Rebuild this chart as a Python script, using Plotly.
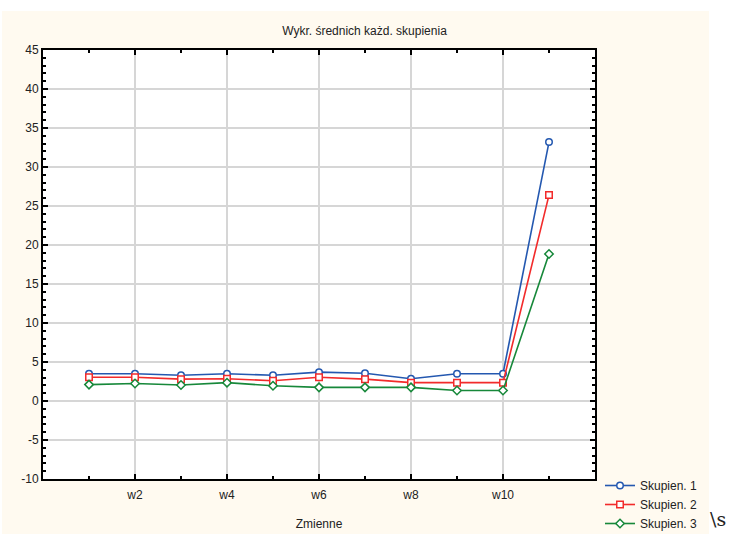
import plotly.graph_objects as go

categories = ["w1", "w2", "w3", "w4", "w5", "w6", "w7", "w8", "w9", "w10", "w11"]
skupien_1 = [3.5, 3.5, 3.3, 3.5, 3.3, 3.7, 3.55, 2.85, 3.5, 3.5, 33.2]
skupien_2 = [3.05, 3.05, 2.8, 2.85, 2.6, 3.05, 2.8, 2.35, 2.35, 2.35, 26.4]
skupien_3 = [2.1, 2.25, 2.05, 2.35, 1.95, 1.75, 1.75, 1.75, 1.35, 1.35, 18.85]
series_names = ["Skupien. 1", "Skupien. 2", "Skupien. 3"]
x_tick_labels = ["w2", "w4", "w6", "w8", "w10"]
y_tick_values = [-10, -5, 0, 5, 10, 15, 20, 25, 30, 35, 40, 45]
y_tick_labels = [str(v) for v in y_tick_values]

x_pos = list(range(1, len(categories) + 1))
tick_pos = [x_pos[categories.index(t)] for t in x_tick_labels]

colors = ["#2458B0", "#F22B2B", "#17883A"]
symbols = ["circle", "square", "diamond"]

fig = go.Figure()
for name, vals, col, sym in zip(series_names, [skupien_1, skupien_2, skupien_3], colors, symbols):
    fig.add_trace(go.Scatter(
        x=x_pos, y=vals, name=name, mode="lines+markers",
        line=dict(color=col, width=1.6),
        marker=dict(symbol=sym, size=6.5, color="white", line=dict(color=col, width=1.5)),
        customdata=categories,
    ))

W, H = 729, 534
L, R, T, B = 43, 595, 50, 479
pw, ph = R - L, B - T

def px(xp):
    return (xp - L) / pw

def py(yp):
    return (B - yp) / ph

font = "Arial, Liberation Sans, sans-serif"
cream = "#FFFAF0"

fig.update_layout(
    width=W, height=H,
    margin=dict(l=L, r=W - R, t=T, b=H - B, pad=0, autoexpand=False),
    paper_bgcolor=cream,
    plot_bgcolor="white",
    font=dict(family=font, size=12, color="#222222"),
    title=dict(text="Wykr. średnich każd. skupienia", x=0.5, xref="container",
               y=1 - 31 / H, yref="container", yanchor="middle", font=dict(size=12, color="#222222")),
    showlegend=True,
    legend=dict(x=600 / W, y=1 - 471 / H, xref="container", yref="container",
                xanchor="left", yanchor="top",
                bgcolor="rgba(0,0,0,0)", font=dict(size=12, color="#222222"),
                tracegroupgap=0),
    xaxis=dict(
        range=[0, 12], tickvals=tick_pos, ticktext=x_tick_labels,
        showgrid=True, gridcolor="#D6D6D6", gridwidth=1.5,
        zeroline=False, showline=True, linecolor="black", linewidth=2,
        mirror="ticks", ticks="inside", ticklen=5, tickcolor="black", tickwidth=1.5,
        minor=dict(dtick=1, tick0=0, ticks="inside", ticklen=3, tickcolor="black", showgrid=False),
        title=dict(text="Zmienne", standoff=18, font=dict(size=12)),
        ticklabelstandoff=4,
        tickfont=dict(size=12),
    ),
    yaxis=dict(
        range=[-10, 45], tickvals=y_tick_values, ticktext=y_tick_labels,
        showgrid=True, gridcolor="#D6D6D6", gridwidth=1.5,
        zeroline=False, showline=True, linecolor="black", linewidth=2,
        mirror="ticks", ticks="inside", ticklen=5, tickcolor="black", tickwidth=1.5,
        minor=dict(dtick=1, tick0=0, ticks="inside", ticklen=3, tickcolor="black", showgrid=False),
        tickfont=dict(size=12),
    ),
    shapes=[
        dict(type="rect", xref="paper", yref="paper", x0=px(-5), x1=px(W + 5), y0=py(11), y1=py(-5),
             fillcolor="white", line=dict(width=0), layer="above"),
        dict(type="rect", xref="paper", yref="paper", x0=px(709), x1=px(W + 5), y0=py(H + 5), y1=py(-5),
             fillcolor="white", line=dict(width=0), layer="above"),
        dict(type="rect", xref="paper", yref="paper", x0=px(-5), x1=px(2), y0=py(H + 5), y1=py(-5),
             fillcolor="white", line=dict(width=0), layer="above"),
    ],
    annotations=[
        dict(text="\\s", xref="paper", yref="paper", x=px(708), y=py(506), xanchor="left", yanchor="top",
             showarrow=False, font=dict(family="DejaVu Serif, Liberation Serif, serif", size=19, color="#222222")),
    ],
)

fig.write_html("out.html", config={"displayModeBar": False},
               post_script="document.body.style.margin='0';")
